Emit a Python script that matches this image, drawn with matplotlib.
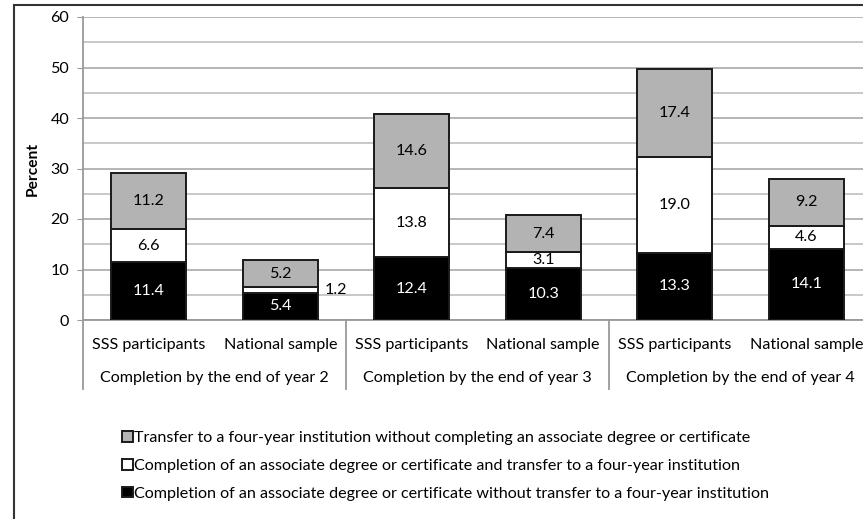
import matplotlib
matplotlib.use("Agg")
import matplotlib.pyplot as plt
import numpy as np
from matplotlib.patches import Rectangle
from matplotlib.transforms import blended_transform_factory

# data
subgroups = ["SSS participants", "National sample"] * 3
periods = ["Completion by the end of year 2",
           "Completion by the end of year 3",
           "Completion by the end of year 4"]
completion_no_transfer = [11.4, 5.4, 12.4, 10.3, 13.3, 14.1]
completion_and_transfer = [6.6, 1.2, 13.8, 3.1, 19.0, 4.6]
transfer_no_completion = [11.2, 5.2, 14.6, 7.4, 17.4, 9.2]

legend_labels = [
    "Transfer to a four-year institution without completing an associate degree or certificate",
    "Completion of an associate degree or certificate and transfer to a four-year institution",
    "Completion of an associate degree or certificate without transfer to a four-year institution",
]

plt.rcParams["font.family"] = ["Lato", "DejaVu Sans"]
FS = 11.6
W, H = 863, 519

fig = plt.figure(figsize=(W / 100, H / 100), dpi=100)
# axes run past the right edge like in the (cropped) reference
ax = fig.add_axes([83 / W, 1 - 320 / H, 789 / W, 303 / H])

x = np.arange(len(subgroups))
bw = 0.57
black = np.array(completion_no_transfer)
white = np.array(completion_and_transfer)
gray = np.array(transfer_no_completion)

b1 = ax.bar(x, black, bw, color="black", edgecolor="#1a1a1a", lw=1.4, zorder=3)
b2 = ax.bar(x, white, bw, bottom=black, color="white", edgecolor="#1a1a1a", lw=1.4, zorder=3)
b3 = ax.bar(x, gray, bw, bottom=black + white, color="#b3b3b3", edgecolor="#1a1a1a", lw=1.4, zorder=3)

for i in range(len(x)):
    ax.text(x[i], black[i] / 2, f"{black[i]:.1f}", ha="center", va="center",
            color="white", fontsize=FS, zorder=4)
    if white[i] < 2:
        ax.annotate(f"{white[i]:.1f}", (x[i] + bw / 2, black[i] + white[i] / 2),
                    xytext=(5, 0), textcoords="offset points", ha="left",
                    va="center", fontsize=FS, zorder=4)
    else:
        ax.text(x[i], black[i] + white[i] / 2, f"{white[i]:.1f}", ha="center",
                va="center", fontsize=FS, zorder=4)
    ax.text(x[i], black[i] + white[i] + gray[i] / 2, f"{gray[i]:.1f}",
            ha="center", va="center", fontsize=FS, zorder=4)

ax.set_xlim(-0.5, len(x) - 0.5)
ax.set_ylim(0, 60)
ax.set_yticks(range(0, 61, 10))
ax.set_yticks(range(5, 60, 10), minor=True)
ax.tick_params(axis="y", which="major", length=4, color="#999999",
               labelsize=FS, pad=6)
ax.tick_params(axis="y", which="minor", length=0)
ax.grid(axis="y", which="major", color="#b0b0b0", lw=1.3, zorder=0)
ax.grid(axis="y", which="minor", color="#c4c4c4", lw=1.3, zorder=0)
ax.set_axisbelow(True)

ax.set_xticks(x)
ax.set_xticklabels(subgroups, fontsize=FS)
ax.tick_params(axis="x", length=0, pad=13)

for s in ["top", "right"]:
    ax.spines[s].set_visible(False)
for s in ["left", "bottom"]:
    ax.spines[s].set_color("#999999")
    ax.spines[s].set_linewidth(1.3)

ax.set_ylabel("Percent", fontsize=FS - 0.4, fontweight="bold", labelpad=8)

# second level of the category axis
tr = blended_transform_factory(ax.transData, ax.transAxes)
for sep in [-0.5, 1.5, 3.5, 5.5]:
    ax.plot([sep, sep], [0, -69 / 303], color="#999999", lw=1.3,
            transform=tr, clip_on=False)
for k, name in enumerate(periods):
    ax.text(2 * k + 0.5, -58 / 303, name, transform=tr, ha="center",
            va="center", fontsize=FS)

leg = fig.legend([b3, b2, b1], legend_labels, loc="upper left",
                 bbox_to_anchor=(114 / W, 1 - 423 / H), frameon=False,
                 fontsize=FS, handlelength=0.65, handleheight=0.65,
                 handletextpad=0.12, labelspacing=0.85, borderpad=0)

# outer chart border (cropped on the right and bottom)
fig.patches.append(Rectangle((14 / W, -0.05), 1.2, 1 - 5 / H + 0.05,
                             transform=fig.transFigure, fill=False,
                             edgecolor="#333333", lw=1.5))

fig.savefig("out.png", dpi=100)
